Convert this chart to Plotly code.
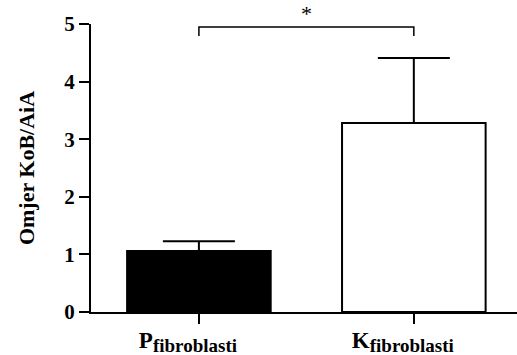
import plotly.graph_objects as go

# data
groups = ["P", "K"]
subscripts = ["fibroblasti", "fibroblasti"]
means = [1.06, 3.28]
sem = [0.17, 1.13]
fills = ["black", "white"]

y_ticks = [0, 1, 2, 3, 4, 5]
sig_label = "*"
bracket_low, bracket_high = 4.79, 4.95

serif = "Liberation Serif, Times New Roman, serif"

xs = list(range(len(groups)))
tick_text = [
    f'<b>{g}<sub><span style="font-size:19px">{s}</span></sub></b>'
    for g, s in zip(groups, subscripts)
]

fig = go.Figure()

# error bars first (transparent bars), so the real bars hide the lower half
fig.add_trace(go.Bar(
    x=xs,
    y=means,
    width=0.668,
    marker=dict(color="rgba(0,0,0,0)", line=dict(width=0)),
    error_y=dict(
        type="data",
        array=sem,
        color="black",
        thickness=2,
        width=36,
    ),
    showlegend=False,
    hoverinfo="skip",
))

fig.add_trace(go.Bar(
    x=xs,
    y=means,
    width=0.668,
    marker=dict(color=fills, line=dict(color="black", width=2)),
    showlegend=False,
    hoverinfo="skip",
))

# significance bracket between the two bars
fig.add_shape(
    type="path",
    xref="x", yref="y",
    path=f"M {xs[0]},{bracket_low} L {xs[0]},{bracket_high} "
         f"L {xs[1]},{bracket_high} L {xs[1]},{bracket_low}",
    line=dict(color="black", width=1.5),
)
fig.add_annotation(
    x=(xs[0] + xs[1]) / 2,
    y=bracket_high,
    yshift=-1,
    text=sig_label,
    showarrow=False,
    yanchor="bottom",
    font=dict(family=serif, size=22, color="black"),
)

fig.update_layout(
    width=517,
    height=355,
    margin=dict(l=91, r=0, t=24, b=43),
    barmode="overlay",
    plot_bgcolor="white",
    paper_bgcolor="white",
    font=dict(family=serif, color="black"),
    xaxis=dict(
        range=[-0.502, 1.48],
        tickvals=xs,
        ticktext=tick_text,
        tickfont=dict(family=serif, size=23, color="black"),
        ticks="outside",
        ticklen=10,
        tickwidth=2,
        tickcolor="black",
        ticklabelstandoff=-4,
        ticklabelshift=-11,
        showline=True,
        linecolor="black",
        linewidth=2,
        showgrid=False,
        zeroline=False,
        automargin=False,
    ),
    yaxis=dict(
        range=[0, 5],
        tickvals=y_ticks,
        ticktext=[f"<b>{v}</b>" for v in y_ticks],
        tickfont=dict(family=serif, size=21, color="black"),
        ticks="outside",
        ticklen=10,
        tickwidth=2,
        tickcolor="black",
        showline=True,
        linecolor="black",
        linewidth=2,
        showgrid=False,
        zeroline=False,
        automargin=False,
        title=dict(
            text="<b>Omjer KoB/AiA</b>",
            font=dict(family=serif, size=22, color="black"),
            standoff=24,
        ),
    ),
)

# drop the browser's default page margin so the figure sits at the corner
fig.write_html(
    "out.html",
    config={"displayModeBar": False},
    post_script="document.body.style.margin='0';",
)
